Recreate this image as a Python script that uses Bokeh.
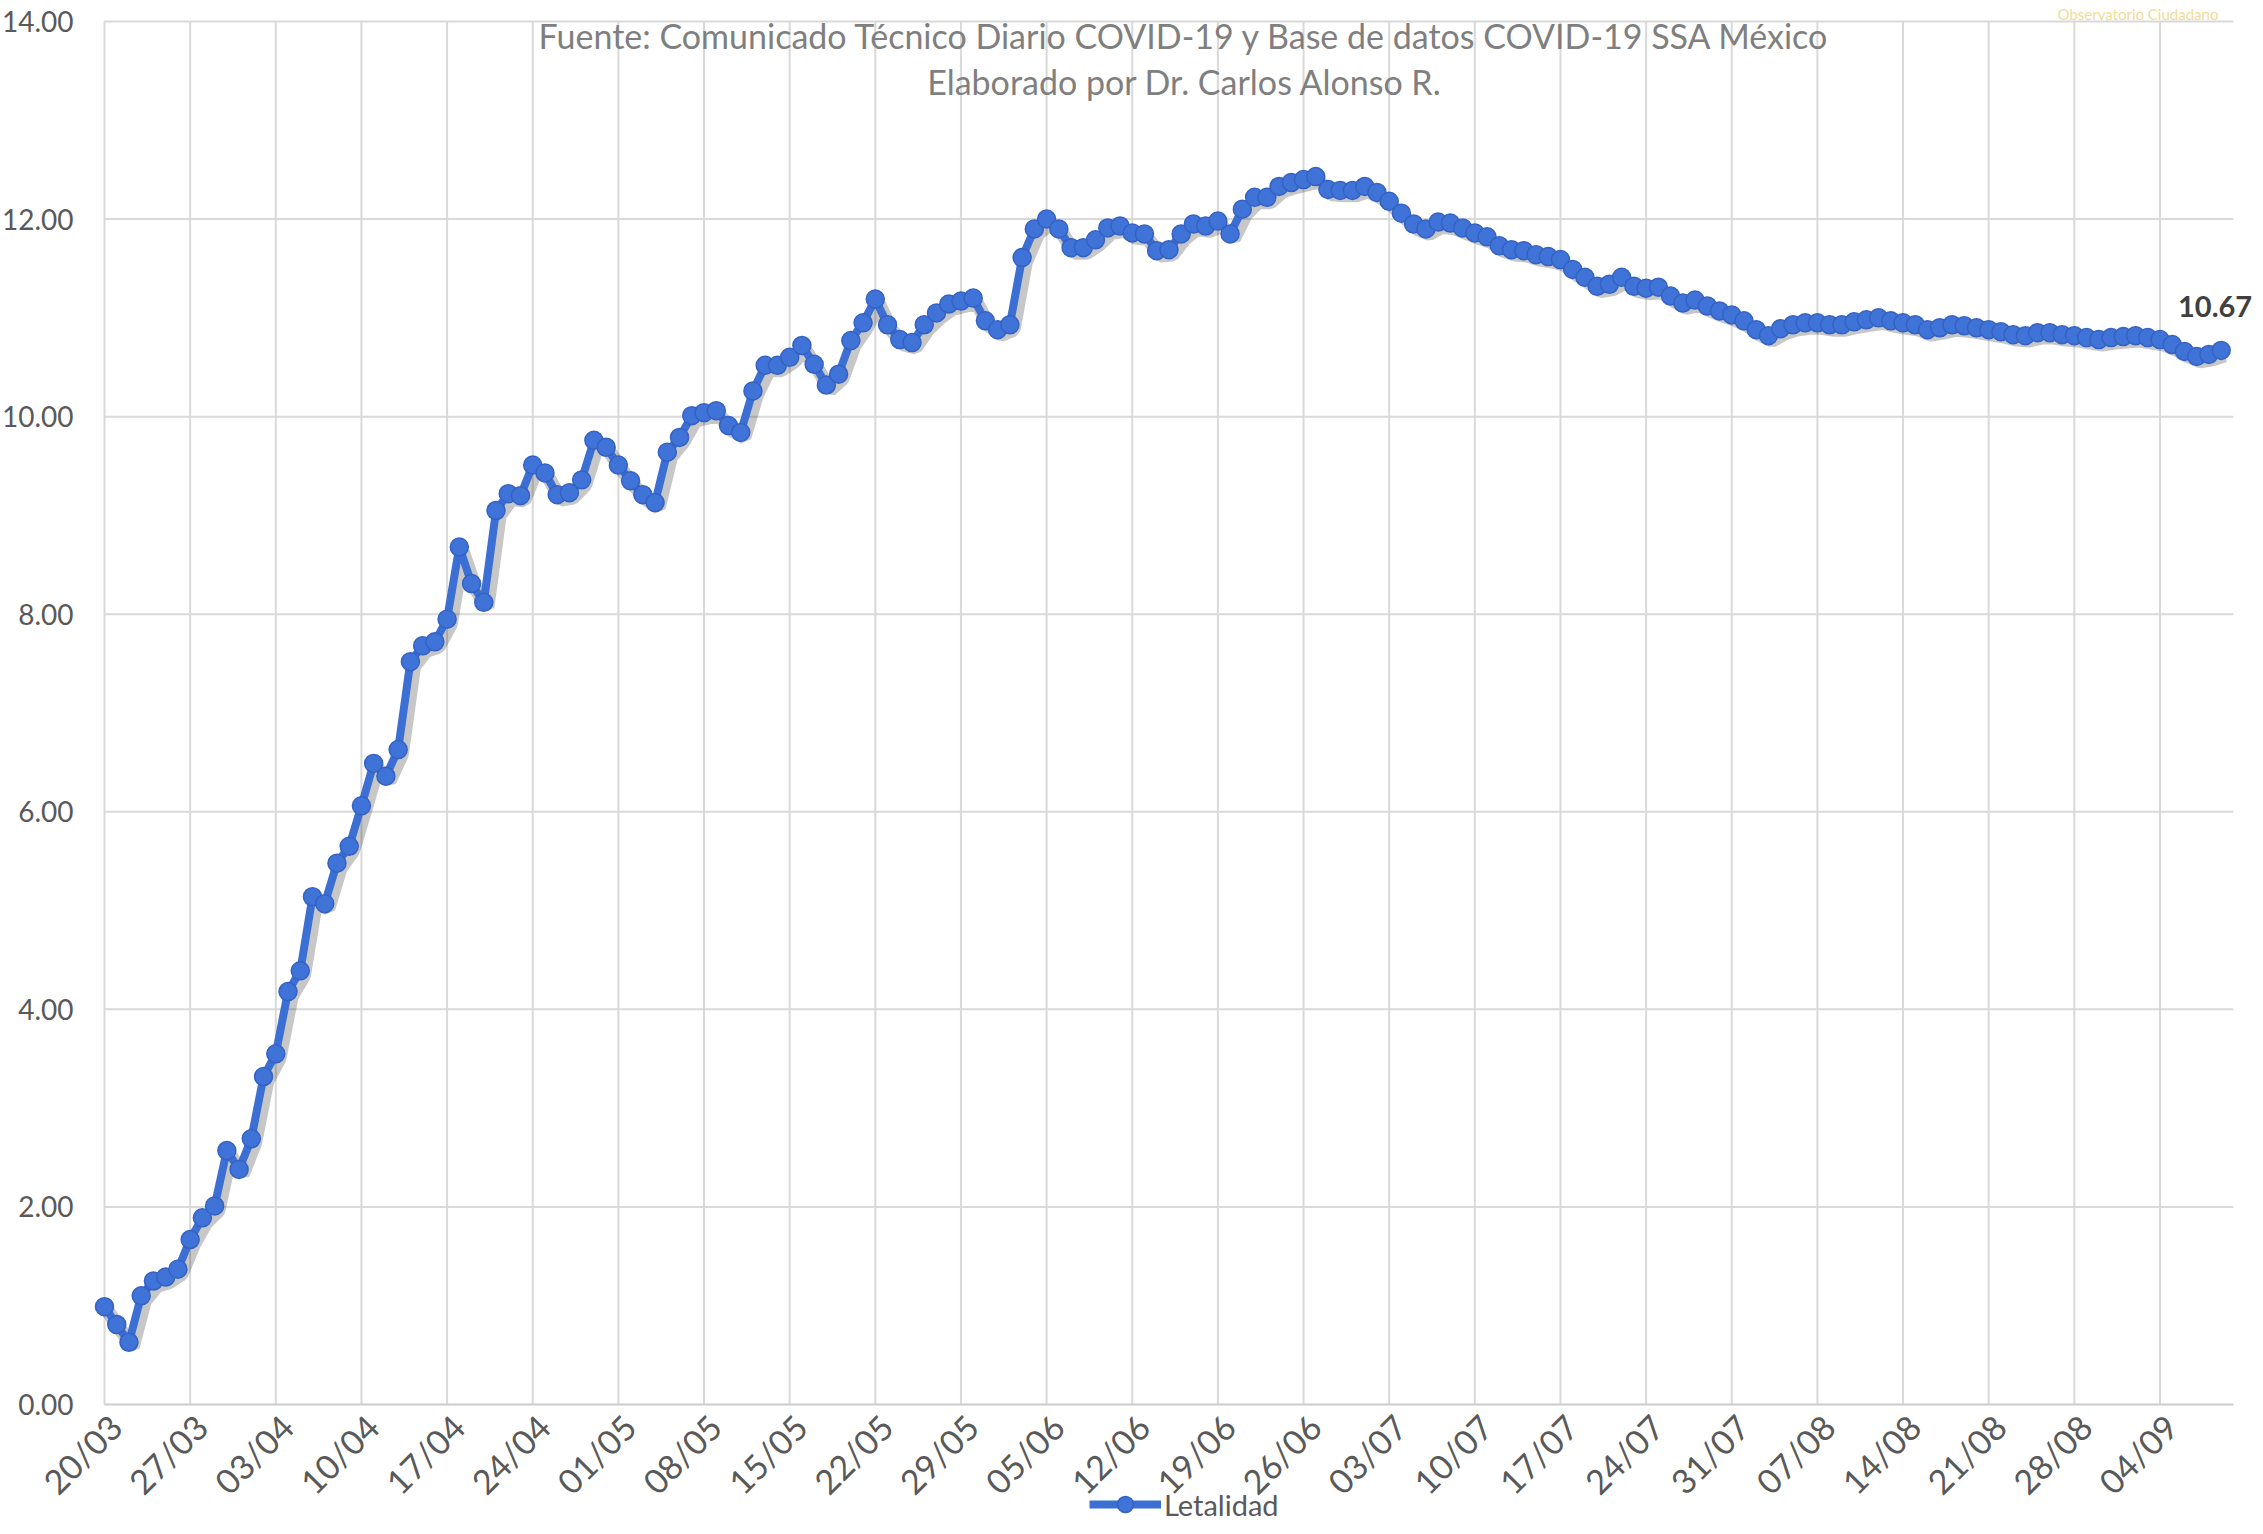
from bokeh.plotting import figure
from bokeh.models import (Range1d, FixedTicker, NumeralTickFormatter, Legend,
                          LegendItem, Label, ColumnDataSource)
from bokeh.transform import dodge
from bokeh.embed import file_html
from bokeh.resources import INLINE

# ---------------- data ----------------
series_name = "Letalidad"
# daily lethality (%) from 20/03 to 09/09 (one value per day)
letalidad = [
    0.99, 0.81, 0.63, 1.10, 1.25, 1.29, 1.37, 1.67, 1.89, 2.01,
    2.57, 2.38, 2.69, 3.32, 3.55, 4.18, 4.39, 5.14, 5.07, 5.48,
    5.65, 6.06, 6.49, 6.36, 6.63, 7.52, 7.68, 7.72, 7.95, 8.68,
    8.31, 8.12, 9.05, 9.22, 9.20, 9.51, 9.43, 9.21, 9.23, 9.36,
    9.76, 9.69, 9.51, 9.35, 9.21, 9.13, 9.64, 9.79, 10.01, 10.04,
    10.06, 9.91, 9.84, 10.26, 10.52, 10.52, 10.60, 10.72, 10.53, 10.32,
    10.43, 10.77, 10.95, 11.19, 10.93, 10.78, 10.75, 10.93, 11.05, 11.14,
    11.17, 11.20, 10.97, 10.88, 10.93, 11.61, 11.90, 12.00, 11.90, 11.71,
    11.71, 11.79, 11.91, 11.93, 11.86, 11.85, 11.68, 11.69, 11.85, 11.95,
    11.93, 11.98, 11.85, 12.10, 12.22, 12.22, 12.33, 12.37, 12.40, 12.43,
    12.30, 12.29, 12.29, 12.33, 12.27, 12.18, 12.06, 11.95, 11.90, 11.97,
    11.96, 11.91, 11.86, 11.82, 11.73, 11.69, 11.68, 11.64, 11.62, 11.59,
    11.49, 11.41, 11.32, 11.34, 11.41, 11.32, 11.30, 11.31, 11.22, 11.15,
    11.18, 11.12, 11.07, 11.03, 10.97, 10.88, 10.82, 10.89, 10.93, 10.95,
    10.95, 10.93, 10.93, 10.96, 10.98, 11.00, 10.97, 10.95, 10.93, 10.88,
    10.90, 10.93, 10.92, 10.90, 10.88, 10.86, 10.83, 10.82, 10.85, 10.85,
    10.83, 10.82, 10.80, 10.78, 10.80, 10.81, 10.82, 10.80, 10.78, 10.73,
    10.66, 10.61, 10.63, 10.67,
]
dia = list(range(len(letalidad)))          # day index, 0 = 20/03

x_tick_days = [0, 7, 14, 21, 28, 35, 42, 49, 56, 63, 70, 77, 84, 91, 98,
               105, 112, 119, 126, 133, 140, 147, 154, 161, 168]
x_tick_labels = ["20/03", "27/03", "03/04", "10/04", "17/04", "24/04",
                 "01/05", "08/05", "15/05", "22/05", "29/05", "05/06",
                 "12/06", "19/06", "26/06", "03/07", "10/07", "17/07",
                 "24/07", "31/07", "07/08", "14/08", "21/08", "28/08", "04/09"]
y_ticks = [0, 2, 4, 6, 8, 10, 12, 14]

subtitle_1 = "Fuente: Comunicado Técnico Diario COVID-19 y Base de datos COVID-19 SSA México"
subtitle_2 = "Elaborado por Dr. Carlos Alonso R."
last_label = "10.67"
logo_text = "Observatorio Ciudadano"

FONT = "Lato"
BLUE = "#3B6FD3"
GRID = "#D9D9D9"
TICK_COLOR = "#595959"

# ---------------- layout constants ----------------
W, H = 2254, 1524
PX_DAY = 12.235            # pixels per day
PX_UNIT = 98.786           # pixels per percentage point
X0_PX = 104.0              # pixel column of day 0
Y0_PX = 1404.0             # pixel row of value 0
LABEL_SHIFT = 0.9          # rotated date labels sit a little right of their grid line (Excel style)
x_start = -X0_PX / PX_DAY
x_end = x_start + W / PX_DAY
y_start = -(H - Y0_PX) / PX_UNIT
y_end = y_start + H / PX_UNIT
grid_x_end = len(letalidad)          # horizontal grid lines end one day after last point

src = ColumnDataSource(dict(dia=dia, letalidad=letalidad))

p = figure(width=W, height=H, output_backend="svg", toolbar_location=None,
           x_range=Range1d(x_start, x_end), y_range=Range1d(y_start, y_end),
           min_border=0, min_border_left=0, min_border_right=0,
           min_border_top=0, min_border_bottom=0)
p.outline_line_color = None
p.background_fill_color = "white"
p.border_fill_color = "white"
p.grid.visible = False

# grid lines drawn from the tick lists
p.segment(x0=x_tick_days, y0=[y_ticks[0]] * len(x_tick_days),
          x1=x_tick_days, y1=[y_ticks[-1]] * len(x_tick_days),
          line_color=GRID, line_width=2)
p.segment(x0=[x_tick_days[0]] * len(y_ticks), y0=y_ticks,
          x1=[grid_x_end] * len(y_ticks), y1=y_ticks,
          line_color=[("#CCCCCC" if t == 0 else GRID) for t in y_ticks],
          line_width=2)

# axes (fixed inside the canvas)
label_pos = [d + LABEL_SHIFT for d in x_tick_days]
p.xaxis.fixed_location = 0
p.xaxis.ticker = FixedTicker(ticks=label_pos)
p.xaxis.major_label_overrides = {d: l for d, l in zip(label_pos, x_tick_labels)}
p.xaxis.major_label_orientation = 0.785398
p.xaxis.major_label_text_font = FONT
p.xaxis.major_label_text_font_size = "34px"
p.xaxis.major_label_text_color = TICK_COLOR
p.xaxis.major_label_standoff = 10
p.xaxis.major_tick_line_color = None
p.xaxis.minor_tick_line_color = None
p.xaxis.axis_line_color = None

p.yaxis.fixed_location = 0
p.yaxis.ticker = FixedTicker(ticks=y_ticks)
p.yaxis.formatter = NumeralTickFormatter(format="0.00")
p.yaxis.major_label_text_font = FONT
p.yaxis.major_label_text_font_size = "28px"
p.yaxis.major_label_text_color = TICK_COLOR
p.yaxis.major_label_standoff = 25
p.yaxis.major_tick_line_color = None
p.yaxis.minor_tick_line_color = None
p.yaxis.axis_line_color = None

# shadow under the series
p.line(x=dodge("dia", 0.3), y=dodge("letalidad", -0.05), source=src,
       line_color="black", line_alpha=0.22, line_width=14)

ln = p.line("dia", "letalidad", source=src, line_color=BLUE, line_width=8)
sc = p.scatter("dia", "letalidad", source=src, size=18, fill_color="#3F73D8",
               line_color="#3462C2", line_width=1.5)

legend = Legend(items=[LegendItem(label=series_name, renderers=[ln, sc])],
                location=(1089, 0), orientation="horizontal",
                glyph_width=72, glyph_height=40, label_standoff=3,
                padding=0, margin=0, border_line_color=None,
                background_fill_alpha=0,
                label_text_font=FONT, label_text_font_size="29px",
                label_text_color=TICK_COLOR)
p.add_layout(legend)

# subtitle texts
p.add_layout(Label(x=88.3, y=13.86, text=subtitle_1, text_align="center",
                   text_baseline="middle", text_font=FONT, text_font_size="34px",
                   text_color="#7F7F7F"))
p.add_layout(Label(x=88.3, y=13.39, text=subtitle_2, text_align="center",
                   text_baseline="middle", text_font=FONT, text_font_size="34px",
                   text_color="#7F7F7F"))

# last value label
p.add_layout(Label(x=dia[-1], y=letalidad[-1], text=last_label, x_offset=31,
                   y_offset=44, text_align="right", text_baseline="middle",
                   text_font=FONT, text_font_size="29px", text_font_style="bold",
                   text_color="#404040"))

# faint logo text
p.add_layout(Label(x=166.2, y=14.08, text=logo_text, text_align="center",
                   text_baseline="middle", text_font=FONT, text_font_size="15px",
                   text_color="#F0DC98"))

open("out.html", "w").write(file_html(p, INLINE))
